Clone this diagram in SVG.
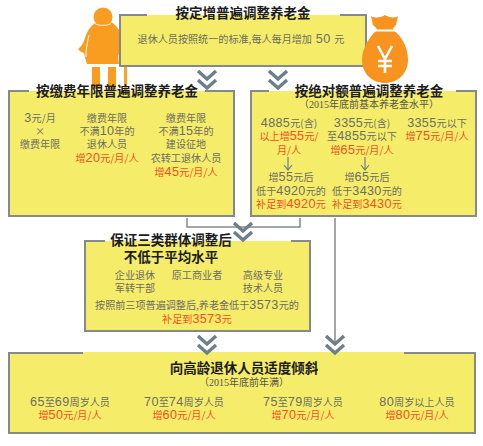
<svg xmlns="http://www.w3.org/2000/svg" width="483" height="446" viewBox="0 0 483 446">
<defs>
<style>
text{font-family:"Noto Sans CJK SC","Liberation Sans",sans-serif;text-anchor:middle}
.box{fill:#f5ec6a;stroke:none}
.edge{fill:none;stroke:#85898b;stroke-width:2}
.h{font-size:13.5px;font-weight:700;fill:#1c1c1c}
.t{font-size:10.1px;fill:#6d6d62}
.r{font-size:10.1px;fill:#f2501f}
.d{font-family:"Liberation Sans",sans-serif;font-size:12.6px;letter-spacing:.35px}
.s{font-size:10px;fill:#55554c;font-family:"Liberation Serif","Noto Sans CJK SC",serif}
.ln{fill:none;stroke:#85898b;stroke-width:1.5}
.chev{fill:none;stroke:#6c7f8b;stroke-width:3.4}
.arr{fill:none;stroke:#6c7f8b;stroke-width:1.2}
</style>
<g id="chevron"><path class="chev" d="M-9 0L0 8L9 0M-9 -9L0 -1L9 -9"/></g>
</defs>
<g id="elder">
<circle cx="103" cy="17" r="9.500" fill="#f99d20"/>
<path d="M103 21C94 21 88 28 85 38C83 44 81 47 78 49L81 52L84 53C85 58 86 61 87 64H119L118 57L120 51L125 52C124 42 121 30 115 25C112 22 107 21 103 21Z" fill="#f99d20"/>
<path d="M95 23.500C98 26 108 26 111 23.500M89 35C87 43 86 50 86 57" fill="none" stroke="#fff" stroke-width="0.9"/>
<rect x="92" y="67" width="8" height="22" fill="#f99d20"/>
<rect x="108" y="67" width="8" height="22" fill="#f99d20"/>
<path d="M120 52H127V90H124V55H120Z" fill="#f7a32c"/>
</g>
<g id="n1">
<rect class="box" x="119" y="15" width="248" height="51"/>
<path class="edge" d="M147 15H120V66H366V15H340"/>
<text class="h" x="243" y="18">按定增普遍调整养老金</text>
<text class="t" x="241" y="43">退休人员按照统一的标准,每人每月增加<tspan class="d"> 50 </tspan>元</text>
</g>
<g id="moneybag">
<path d="M371 16C376 19 382 17 385 15C388 17 394 19 398 16L396 25C394 27 393 28 393 30C402 36 408 48 408 60C408 74 397 83 385 83C373 83 362 74 362 60C362 48 370 36 377 30C377 28 375 27 373 25Z" fill="#f7931e"/>
<path d="M374 30.500H396" stroke="#fff" stroke-width="2"/>
<path d="M378 46L385 59L392 46M385 59V73M378 61H392M378 66H392" fill="none" stroke="#fff" stroke-width="2.6"/>
</g>
<g id="n2">
<rect class="box" x="8" y="91" width="226" height="126"/>
<path class="edge" d="M29 91H9V216H234V91H205"/>
<text class="h" x="117" y="96">按缴费年限普遍调整养老金</text>
<text class="t" x="40" y="122"><tspan class="d">3</tspan>元/月</text>
<text class="t" x="40" y="135">×</text>
<text class="t" x="40" y="148">缴费年限</text>
<text class="t" x="107" y="122">缴费年限</text>
<text class="t" x="107" y="135">不满<tspan class="d">10</tspan>年的</text>
<text class="t" x="107" y="148">退休人员</text>
<text class="r" x="107" y="162">增<tspan class="d">20</tspan>元/月/人</text>
<text class="t" x="186" y="122">缴费年限</text>
<text class="t" x="186" y="135">不满<tspan class="d">15</tspan>年的</text>
<text class="t" x="186" y="148">建设征地</text>
<text class="t" x="186" y="162">农转工退休人员</text>
<text class="r" x="186" y="176">增<tspan class="d">45</tspan>元/月/人</text>
</g>
<g id="n3">
<rect class="box" x="250" y="91" width="227" height="126"/>
<path class="edge" d="M269 91H251V216H476V91H456"/>
<text class="h" x="369" y="96">按绝对额普遍调整养老金</text>
<text class="s" x="369" y="108">（2015年底前基本养老金水平）</text>
<text class="t" x="289" y="127"><tspan class="d">4885</tspan>元(含)</text>
<text class="r" x="289" y="140">以上增<tspan class="d">55</tspan>元/</text>
<text class="r" x="289" y="154">月/人</text>
<text class="t" x="362" y="127"><tspan class="d">3355</tspan>元(含)</text>
<text class="t" x="362" y="140">至<tspan class="d">4855</tspan>元以下</text>
<text class="r" x="362" y="154">增<tspan class="d">65</tspan>元/月/人</text>
<text class="t" x="437" y="127"><tspan class="d">3355</tspan>元以下</text>
<text class="r" x="437" y="140">增<tspan class="d">75</tspan>元/月/人</text>
<path class="arr" d="M288 157V170M284 165L288 170L292 165"/>
<path class="arr" d="M365 157V170M361 165L365 170L369 165"/>
<text class="t" x="291" y="181">增<tspan class="d">55</tspan>元后</text>
<text class="t" x="291" y="195">低于<tspan class="d">4920</tspan>元的</text>
<text class="r" x="291" y="208">补足到<tspan class="d">4920</tspan>元</text>
<text class="t" x="367" y="181">增<tspan class="d">65</tspan>元后</text>
<text class="t" x="367" y="195">低于<tspan class="d">3430</tspan>元的</text>
<text class="r" x="367" y="208">补足到<tspan class="d">3430</tspan>元</text>
</g>
<g id="n4">
<rect class="box" x="84" y="241" width="226" height="90"/>
<path class="edge" d="M105 241H85V331H310V241H291"/>
<text class="h" x="171" y="245">保证三类群体调整后</text>
<text class="h" x="171" y="262">不低于平均水平</text>
<text class="t" x="135" y="279">企业退休</text>
<text class="t" x="135" y="292">军转干部</text>
<text class="t" x="197" y="279">原工商业者</text>
<text class="t" x="263" y="279">高级专业</text>
<text class="t" x="263" y="292">技术人员</text>
<text class="t" x="197" y="309">按照前三项普遍调整后,养老金低于<tspan class="d">3573</tspan>元的</text>
<text class="r" x="197" y="323">补足到<tspan class="d">3573</tspan>元</text>
</g>
<g id="n5">
<rect class="box" x="8" y="352" width="468" height="82"/>
<path class="edge" d="M83 353H9V433H475V353H404"/>
<text class="h" x="244" y="373">向高龄退休人员适度倾斜</text>
<text class="s" x="244" y="386">（2015年底前年满）</text>
<text class="t" x="70" y="406"><tspan class="d">65</tspan>至<tspan class="d">69</tspan>周岁人员</text>
<text class="r" x="70" y="419">增<tspan class="d">50</tspan>元/月/人</text>
<text class="t" x="184" y="406"><tspan class="d">70</tspan>至<tspan class="d">74</tspan>周岁人员</text>
<text class="r" x="184" y="419">增<tspan class="d">60</tspan>元/月/人</text>
<text class="t" x="303" y="406"><tspan class="d">75</tspan>至<tspan class="d">79</tspan>周岁人员</text>
<text class="r" x="303" y="419">增<tspan class="d">70</tspan>元/月/人</text>
<text class="t" x="417" y="406"><tspan class="d">80</tspan>周岁以上人员</text>
<text class="r" x="417" y="419">增<tspan class="d">80</tspan>元/月/人</text>
</g>
<g id="connectors">
<path class="ln" d="M187 218V227H300V218"/>
<path class="ln" d="M335 218V345"/>
<use href="#chevron" x="207" y="80"/>
<use href="#chevron" x="278" y="80"/>
<use href="#chevron" x="243" y="232"/>
<use href="#chevron" x="207" y="345"/>
<use href="#chevron" x="335" y="345"/>
</g>
</svg>
